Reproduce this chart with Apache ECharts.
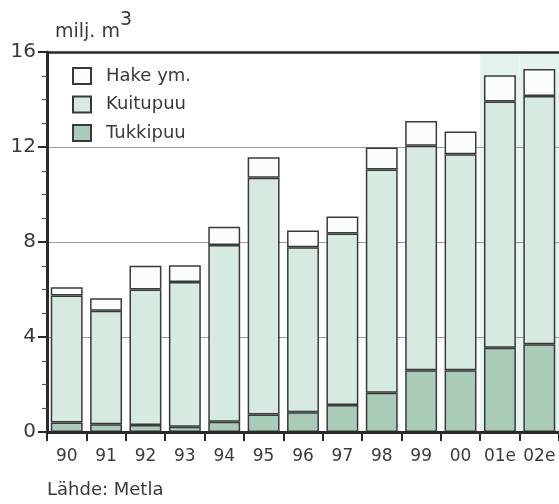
<!DOCTYPE html>
<html>
<head>
<meta charset="utf-8">
<script src="https://cdn.jsdelivr.net/npm/echarts@6/dist/echarts.min.js"></script>
<style>
html,body{margin:0;padding:0;background:#fff;}
#c{width:559px;height:504px;}
</style>
</head>
<body>
<div id="c"></div>
<script>
var categories = ['90','91','92','93','94','95','96','97','98','99','00','01e','02e'];
var tukkipuu = [0.4, 0.33, 0.3, 0.22, 0.43, 0.74, 0.83, 1.14, 1.65, 2.6, 2.6, 3.55, 3.7];
var kuitupuu = [5.35, 4.78, 5.7, 6.1, 7.44, 9.97, 6.95, 7.22, 9.4, 9.45, 9.1, 10.37, 10.45];
var hake = [0.35, 0.52, 1.0, 0.7, 0.77, 0.86, 0.7, 0.71, 0.93, 1.05, 0.95, 1.1, 1.13];
var yTicks = [0, 4, 8, 12, 16];
var shadedCats = ['01e','02e'];

var FONT = '"DejaVu Sans", sans-serif';
var TXT = '#3a3a3a';
var EDGE = '#3a3a3a';
var yMax = yTicks[yTicks.length-1];

var shadeData = categories.map(function(c){ return shadedCats.indexOf(c) >= 0 ? yMax : null; });

var chart = echarts.init(document.getElementById('c'), null, {renderer:'canvas'});
function seg(name, data, color){
  return {
    name: name, type: 'bar', stack: 'total', data: data,
    barCategoryGap: '19%',
    itemStyle: {color: color, borderColor: EDGE, borderWidth: 1.5},
    emphasis: {disabled: true},
    z: 2
  };
}
chart.setOption({
  animation: false,
  textStyle: {fontFamily: FONT, color: TXT},
  grid: {left: 47, right: 0, top: 52, bottom: 72},
  graphic: [
    {type:'text', left: 55, top: 23, style:{text:'milj. m', font:'19px ' + FONT, fill: TXT}},
    {type:'text', left: 120, top: 11, style:{text:'3', font:'19px ' + FONT, fill: TXT}},
    {type:'text', left: 47, top: 481, style:{text:'Lähde: Metla', font:'18px ' + FONT, fill: TXT}}
  ],
  legend: {
    data: ['Hake ym.', 'Kuitupuu', 'Tukkipuu'],
    orient: 'vertical', left: 72, top: 67, padding: 0,
    itemWidth: 18, itemHeight: 16, itemGap: 10.5,
    icon: 'rect',
    textStyle: {fontFamily: FONT, fontSize: 18, color: TXT, padding: [0,0,0,10]},
    selectedMode: false
  },
  xAxis: [{
    type: 'category', data: categories, position: 'bottom',
    axisLine: {lineStyle: {color: '#2a2a2a', width: 3}},
    axisTick: {show: true, length: 9, lineStyle: {color: '#2a2a2a', width: 2}},
    axisLabel: {fontFamily: FONT, fontSize: 17, color: TXT, margin: 16, interval: 0},
    z: 10
  }, {
    type: 'category', data: categories, position: 'top',
    axisLine: {lineStyle: {color: '#2a2a2a', width: 2.5}},
    axisTick: {show: false}, axisLabel: {show: false},
    z: 10
  }],
  yAxis: {
    type: 'value', min: yTicks[0], max: yMax, interval: 4,
    axisLine: {show: true, lineStyle: {color: '#2a2a2a', width: 3}},
    axisTick: {show: true, length: 9, lineStyle: {color: '#2a2a2a', width: 2}},
    minorTick: {show: true, splitNumber: 4, length: 5, lineStyle: {color: '#555', width: 1.2}},
    axisLabel: {fontFamily: FONT, fontSize: 20, color: TXT, margin: 11},
    splitLine: {show: true, lineStyle: {color: '#9a9a9a', width: 1}}
  },
  series: [
    {
      name: 'shade', type: 'bar', xAxisIndex: 1, data: shadeData,
      barCategoryGap: 0, barWidth: '100%', silent: true, z: -1,
      itemStyle: {color: '#e6f2ec'}, emphasis: {disabled: true}
    },
    seg('Tukkipuu', tukkipuu, '#a9cbb7'),
    seg('Kuitupuu', kuitupuu, '#d6eae0'),
    seg('Hake ym.', hake, '#fbfdfc')
  ]
});
</script>
</body>
</html>
